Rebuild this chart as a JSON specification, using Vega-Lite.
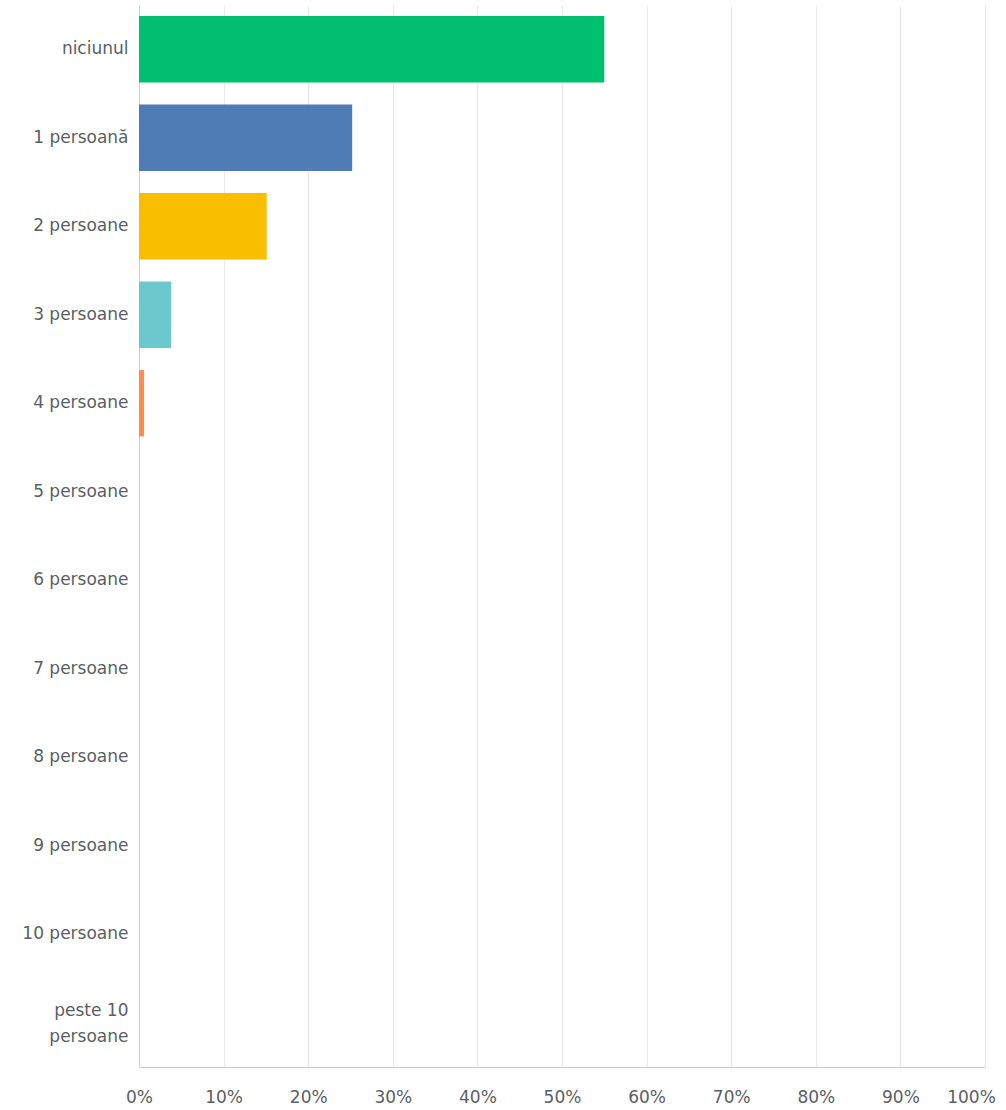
{
  "$schema": "https://vega.github.io/schema/vega-lite/v6.json",
  "autosize": "none",
  "padding": {"left": 139, "top": 5, "right": 21, "bottom": 43},
  "width": 846,
  "height": 1062,
  "background": "white",
  "config": {
    "view": {"stroke": null},
    "font": "DejaVu Sans"
  },
  "data": {
    "values": [
      {"raspuns": "niciunul", "procent": 55.0},
      {"raspuns": "1 persoană", "procent": 25.2},
      {"raspuns": "2 persoane", "procent": 15.1},
      {"raspuns": "3 persoane", "procent": 3.8},
      {"raspuns": "4 persoane", "procent": 0.6},
      {"raspuns": "5 persoane", "procent": 0},
      {"raspuns": "6 persoane", "procent": 0},
      {"raspuns": "7 persoane", "procent": 0},
      {"raspuns": "8 persoane", "procent": 0},
      {"raspuns": "9 persoane", "procent": 0},
      {"raspuns": "10 persoane", "procent": 0},
      {"raspuns": "peste 10 persoane", "procent": 0}
    ]
  },
  "mark": {"type": "bar"},
  "encoding": {
    "y": {
      "field": "raspuns",
      "type": "nominal",
      "sort": null,
      "scale": {"paddingInner": 0.25, "paddingOuter": 0.125},
      "axis": {
        "title": null,
        "ticks": false,
        "domain": true,
        "domainColor": "#cfcfcf",
        "labelFont": "DejaVu Sans",
        "labelFontSize": 17,
        "labelColor": "#5a5f63",
        "labelPadding": 11,
        "labelLimit": 200,
        "labelLineHeight": 26,
        "labelOffset": {"condition": {"test": "datum.value == 'peste 10 persoane'", "value": -12}, "value": 0},
        "labelExpr": "datum.value == 'peste 10 persoane' ? ['peste 10', 'persoane'] : datum.value"
      }
    },
    "x": {
      "field": "procent",
      "type": "quantitative",
      "scale": {"domain": [0, 100], "nice": false},
      "axis": {
        "title": null,
        "values": [0, 10, 20, 30, 40, 50, 60, 70, 80, 90, 100],
        "labelExpr": "datum.value + '%'",
        "ticks": false,
        "domain": true,
        "domainColor": "#cfcfcf",
        "grid": true,
        "gridColor": "#e8e8e8",
        "labelFont": "DejaVu Sans",
        "labelFontSize": 17,
        "labelColor": "#5a5f63",
        "labelPadding": 22,
        "labelFlush": false,
        "labelOffset": {"condition": {"test": "datum.value == 100", "value": -14}, "value": 0}
      }
    },
    "color": {
      "field": "raspuns",
      "type": "nominal",
      "sort": null,
      "legend": null,
      "scale": {
        "domain": ["niciunul", "1 persoană", "2 persoane", "3 persoane", "4 persoane", "5 persoane", "6 persoane", "7 persoane", "8 persoane", "9 persoane", "10 persoane", "peste 10 persoane"],
        "range": ["#00BF6F", "#507CB6", "#F9BE00", "#6BC8CD", "#FF8B4F", "#7D5BA6", "#D25F90", "#DCB58B", "#AA8E6C", "#2B6B7D", "#9FBFD9", "#A0A0A0"]
      }
    }
  }
}
